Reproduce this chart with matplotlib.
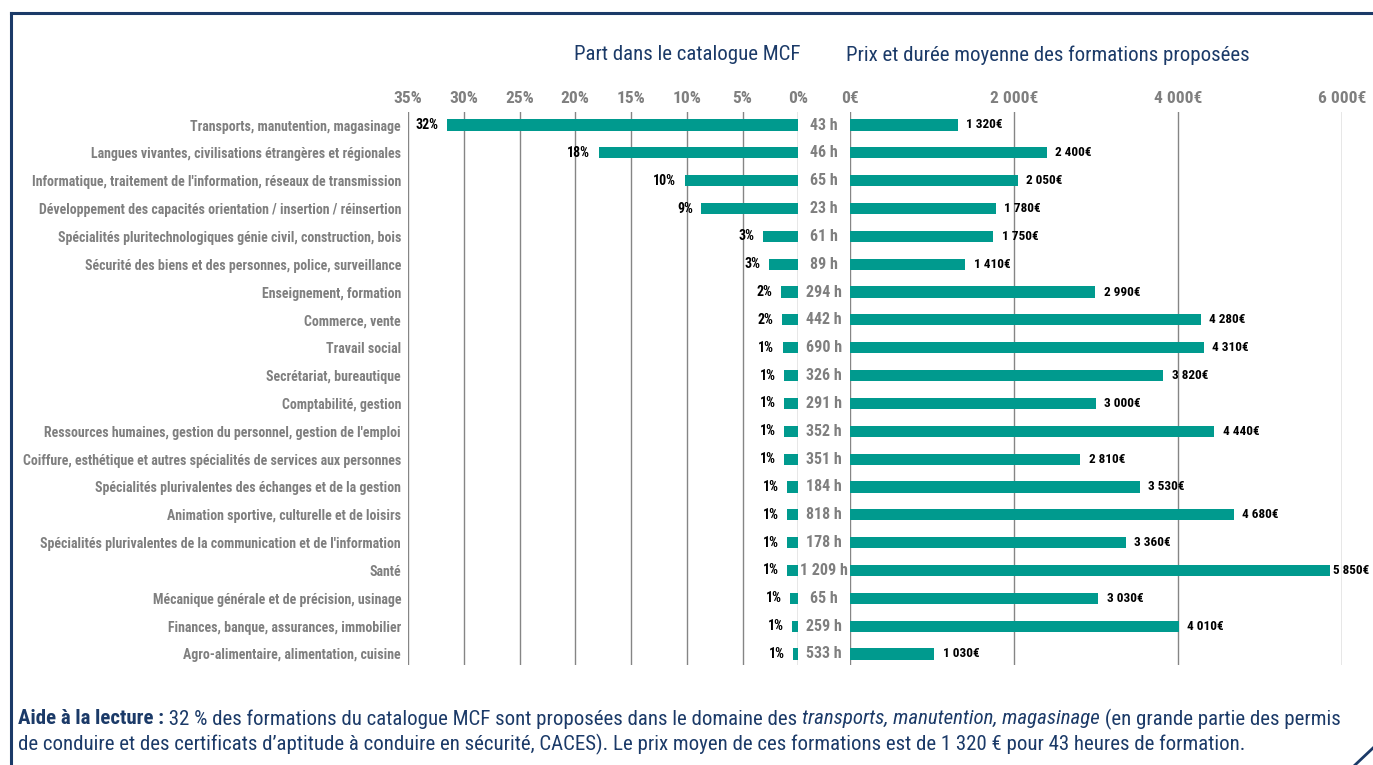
import matplotlib
matplotlib.use("Agg")
import matplotlib.pyplot as plt
from matplotlib import font_manager as fm
from matplotlib import transforms as mtrans
from matplotlib.lines import Line2D

# ---------------- data ----------------
categories = [
    "Transports, manutention, magasinage",
    "Langues vivantes, civilisations étrangères et régionales",
    "Informatique, traitement de l'information, réseaux de transmission",
    "Développement des capacités orientation / insertion / réinsertion",
    "Spécialités pluritechnologiques génie civil, construction, bois",
    "Sécurité des biens et des personnes, police, surveillance",
    "Enseignement, formation",
    "Commerce, vente",
    "Travail social",
    "Secrétariat, bureautique",
    "Comptabilité, gestion",
    "Ressources humaines, gestion du personnel, gestion de l'emploi",
    "Coiffure, esthétique et autres spécialités de services aux personnes",
    "Spécialités plurivalentes des échanges et de la gestion",
    "Animation sportive, culturelle et de loisirs",
    "Spécialités plurivalentes de la communication et de l'information",
    "Santé",
    "Mécanique générale et de précision, usinage",
    "Finances, banque, assurances, immobilier",
    "Agro-alimentaire, alimentation, cuisine",
]
share_pct = [31.5, 17.9, 10.2, 8.7, 3.2, 2.65, 1.54, 1.48, 1.4, 1.28,
             1.28, 1.28, 1.28, 1.0, 1.0, 1.0, 0.98, 0.74, 0.58, 0.45]
share_labels = ["32%", "18%", "10%", "9%", "3%", "3%", "2%", "2%", "1%", "1%",
                "1%", "1%", "1%", "1%", "1%", "1%", "1%", "1%", "1%", "1%"]
hours = [43, 46, 65, 23, 61, 89, 294, 442, 690, 326,
         291, 352, 351, 184, 818, 178, 1209, 65, 259, 533]
price = [1320, 2400, 2050, 1780, 1750, 1410, 2990, 4280, 4310, 3820,
         3000, 4440, 2810, 3530, 4680, 3360, 5850, 3030, 4010, 1030]
share_ticks = [35, 30, 25, 20, 15, 10, 5, 0]
share_tick_labels = ["35%", "30%", "25%", "20%", "15%", "10%", "5%", "0%"]
price_ticks = [0, 2000, 4000, 6000]
price_tick_labels = ["0€", "2 000€", "4 000€", "6 000€"]

title_left = "Part dans le catalogue MCF"
title_right = "Prix et durée moyenne des formations proposées"


def fmt_thousands(v):
    return f"{v:,}".replace(",", " ")


# ---------------- style ----------------
TEAL = "#009a8e"
NAVY = "#1b3a68"
GRAY = "#7f7f7f"
GRID = "#858585"


def pick(*names):
    for n in names:
        try:
            fm.findfont(fm.FontProperties(family=n), fallback_to_default=False)
            return n
        except Exception:
            pass
    return "DejaVu Sans"


FONT = pick("Liberation Sans Narrow", "Roboto Condensed", "Liberation Sans")
plt.rcParams["font.family"] = [FONT, "DejaVu Sans"]

W, H = 1373, 765
fig = plt.figure(figsize=(W / 100, H / 100), dpi=100)


def fx(px):
    return px / W


def fy(py):
    return 1 - py / H


TOP, BOT = 112, 665
ROW0, ROWN = 125, 654
n = len(categories)
step = (ROWN - ROW0) / (n - 1)
ylo = (BOT - ROWN) / step
yhi = (ROW0 - TOP) / step
rows = list(range(n))

L0, L1 = 408, 798.3
R0, R1 = 849.7, 1342.3
axL = fig.add_axes([fx(L0), fy(BOT), fx(L1 - L0), (BOT - TOP) / H])
axR = fig.add_axes([fx(R0), fy(BOT), fx(R1 - R0), (BOT - TOP) / H])

for ax in (axL, axR):
    for s in ax.spines.values():
        s.set_visible(False)
    ax.set_ylim(n - 1 + ylo, -yhi)
    ax.set_axisbelow(True)
    ax.grid(axis="x", color=GRID, lw=1.0)
    ax.xaxis.tick_top()
    ax.tick_params(axis="x", length=0, pad=4, labelsize=12.5,
                   labelcolor=GRAY)
    ax.patch.set_alpha(0)

# left panel
axL.barh(rows, share_pct, height=0.4, color=TEAL)
axL.set_xlim(35, 0)
axL.set_xticks(share_ticks)
axL.set_xticklabels(share_tick_labels, fontweight="bold")
for lab in axL.get_xticklabels():
    lab.set_clip_on(False)
axL.set_yticks(rows)
axL.set_yticklabels(categories, fontweight="bold", color=GRAY, fontsize=10)
axL.tick_params(axis="y", length=0, pad=5)
for i, (v, lab) in enumerate(zip(share_pct, share_labels)):
    axL.annotate(lab, (v, i), xytext=(-6, 0), textcoords="offset points",
                 ha="right", va="center", fontsize=10, fontweight="bold",
                 color="black")

# hours column
tr = mtrans.blended_transform_factory(fig.transFigure, axL.transData)
for i, h in enumerate(hours):
    axL.text(fx((L1 + R0) / 2), i, f"{fmt_thousands(h)} h", transform=tr,
             ha="center", va="center", fontsize=11.5, fontweight="bold",
             color=GRAY, clip_on=False)

# right panel
axR.barh(rows, price, height=0.4, color=TEAL)
axR.set_xlim(0, 6000)
axR.set_xticks(price_ticks)
axR.set_xticklabels(price_tick_labels, fontweight="bold")
axR.set_yticks([])
xmax = axR.get_xlim()[1]
for i, v in enumerate(price):
    off = 2 if v > 0.9 * xmax else 6
    axR.annotate(f"{fmt_thousands(v)}€", (v, i), xytext=(off, 0),
                 textcoords="offset points", ha="left", va="center",
                 fontsize=9.5, fontweight="bold", color="black",
                 annotation_clip=False)

# titles
fig.text(fx(800), fy(55), title_left, ha="right", va="center",
         fontsize=15, color=NAVY)
fig.text(fx(846), fy(55), title_right, ha="left", va="center",
         fontsize=15, color=NAVY)

# frame
fig.add_artist(Line2D([fx(11), fx(W)], [fy(13), fy(13)], color=NAVY, lw=2.2,
                      transform=fig.transFigure))
fig.add_artist(Line2D([fx(11), fx(11)], [fy(13), fy(H)], color=NAVY, lw=2.2,
                      transform=fig.transFigure))
fig.add_artist(Line2D([fx(1355), fx(W)], [fy(H), fy(748)], color=NAVY, lw=2.0,
                      transform=fig.transFigure))

# caption with mixed styles
renderer = fig.canvas.get_renderer()


def runs(x0, ypx, parts, size):
    x = x0
    for txt, kw in parts:
        t = fig.text(fx(x), fy(ypx), txt, ha="left", va="center",
                     fontsize=size, color=NAVY, **kw)
        bb = t.get_window_extent(renderer)
        x += bb.width


runs(18, 719, [
    ("Aide à la lecture :", {"fontweight": "bold"}),
    (" 32 % des formations du catalogue MCF sont proposées dans le domaine des ", {}),
    ("transports, manutention, magasinage", {"fontstyle": "italic"}),
    (" (en grande partie des permis", {}),
], 15)
runs(18, 744, [
    ("de conduire et des certificats d’aptitude à conduire en sécurité, CACES). "
     "Le prix moyen de ces formations est de 1 320 € pour 43 heures de formation.", {}),
], 15)

fig.savefig("out.png", dpi=100)
